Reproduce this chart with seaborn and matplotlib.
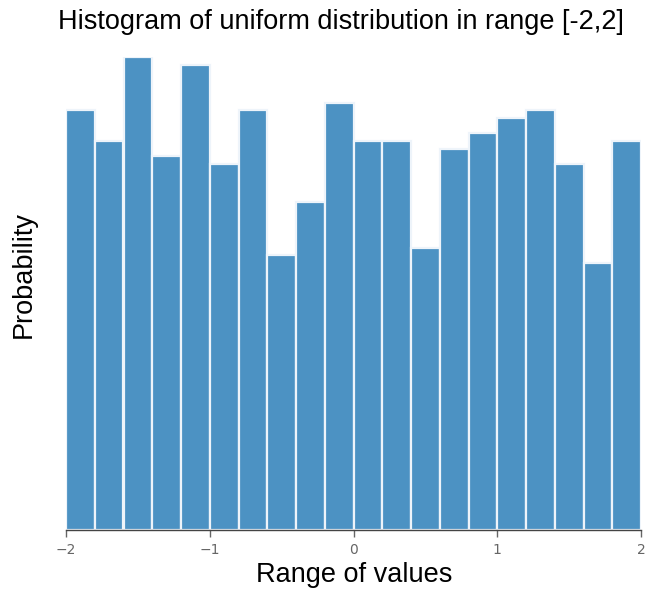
import numpy as np
import pandas as pd
import matplotlib
matplotlib.use("Agg")
import matplotlib.pyplot as plt
import seaborn as sns

# 1000 samples, 20 bins of width 0.2 on [-2, 2]
bin_edges = [-2.0, -1.8, -1.6, -1.4, -1.2, -1.0, -0.8, -0.6, -0.4, -0.2, 0.0,
             0.2, 0.4, 0.6, 0.8, 1.0, 1.2, 1.4, 1.6, 1.8, 2.0]
counts = [55, 51, 62, 49, 61, 48, 55, 36, 43, 56,
          51, 51, 37, 50, 52, 54, 55, 48, 35, 51]
n_total = sum(counts)
bin_width = 0.2
density = [c / (n_total * bin_width) for c in counts]
centers = [(a + b) / 2 for a, b in zip(bin_edges[:-1], bin_edges[1:])]
xticks = [-2, -1, 0, 1, 2]

df = pd.DataFrame({"x": centers, "w": density})

sns.set_style("white")
plt.rcParams["font.family"] = ["Liberation Sans", "DejaVu Sans"]

fig = plt.figure(figsize=(6.45, 5.92), dpi=100)
ax = fig.add_axes([66 / 645, 1 - 530 / 592, (641 - 66) / 645, (530 - 57) / 592])

sns.histplot(data=df, x="x", weights="w", bins=bin_edges, stat="count",
             color="#4c92c3", alpha=1.0, edgecolor="#eef4fa", linewidth=1.6,
             ax=ax)

ax.set_xlim(-2, 2)
ax.set_ylim(0, max(density))
ax.set_yticks([])
ax.set_xticks(xticks)
ax.set_xticklabels([f"{t}".replace("-", "\u2212") for t in xticks],
                   fontfamily="DejaVu Sans", fontsize=10, color="#666666")
ax.tick_params(axis="x", direction="out", length=5, width=1, color="#666666",
               pad=4, bottom=True)
for s in ["top", "right", "left"]:
    ax.spines[s].set_visible(False)
ax.spines["bottom"].set_color("#444444")
ax.spines["bottom"].set_linewidth(1.0)

ax.set_xlabel("")
ax.set_ylabel("")
fig.text(354 / 645, 1 - 575 / 592, "Range of values",
         ha="center", va="center", fontsize=19.5, color="black")
fig.text(24 / 645, 1 - 275 / 592, "Probability", rotation=90,
         ha="center", va="center", fontsize=19.5, color="black")
fig.text(341 / 645, 1 - 22 / 592, "Histogram of uniform distribution in range [-2,2]",
         ha="center", va="center", fontsize=19.5, color="black")

fig.savefig("out.png", dpi=100)
